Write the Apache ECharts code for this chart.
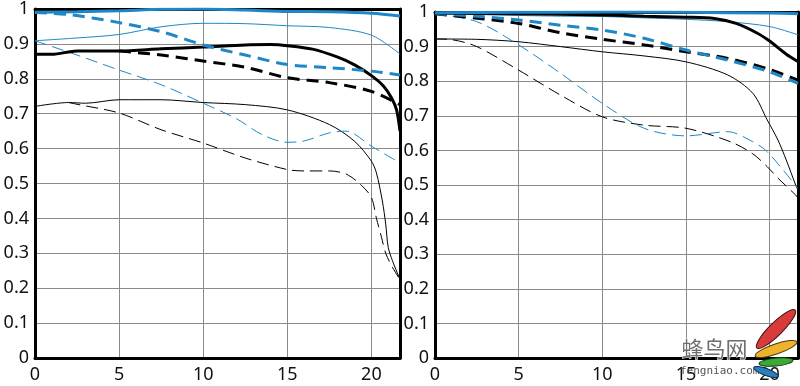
<!DOCTYPE html>
<html>
<head>
<meta charset="utf-8">
<script src="https://cdn.jsdelivr.net/npm/echarts@6/dist/echarts.min.js"></script>
<style>
html,body{margin:0;padding:0;background:#fff;}
#chart{width:800px;height:386px;}
</style>
</head>
<body>
<div id="chart"></div>
<script>
// ---- axis ticks ----
const xTickValues = [0, 5, 10, 15, 20];
const xMax = 21.7;
const yTickLabels = ['0', '0.1', '0.2', '0.3', '0.4', '0.5', '0.6', '0.7', '0.8', '0.9', '1'];

// ---- LEFT panel ----
const L_blueThickSolid_x = [0, 2.5, 5, 7.5, 10, 12.5, 15, 17.5, 20, 21.7];
const L_blueThickSolid_y = [0.991, 0.992, 0.995, 0.999, 1.0, 0.997, 0.993, 0.992, 0.988, 0.98];

const L_blueThickDash_x = [0, 2, 5, 7.5, 10, 12.5, 15, 17.5, 20, 21.7];
const L_blueThickDash_y = [0.99, 0.984, 0.961, 0.935, 0.897, 0.868, 0.841, 0.832, 0.822, 0.811];

const L_blueThinSolid_x = [0, 2.5, 5, 7.5, 10, 12.5, 15, 17.5, 20, 21.7];
const L_blueThinSolid_y = [0.909, 0.917, 0.927, 0.949, 0.959, 0.958, 0.952, 0.947, 0.925, 0.871];

const L_blackThickSolid_x = [0, 1, 2.5, 5, 7.5, 10, 12.5, 14, 15, 16.5, 18, 19, 20, 20.7, 21.2, 21.5, 21.7];
const L_blackThickSolid_y = [0.87, 0.87, 0.88, 0.88, 0.886, 0.891, 0.897, 0.898, 0.895, 0.885, 0.862, 0.84, 0.809, 0.78, 0.745, 0.71, 0.65];

const L_blackThickDash_x = [5, 7.5, 10, 12.5, 15, 17.5, 20, 21.7];
const L_blackThickDash_y = [0.88, 0.868, 0.851, 0.833, 0.803, 0.789, 0.764, 0.726];

const L_blueThinDash_x = [0, 2.5, 5, 7.5, 10, 12, 13.5, 15, 16, 17.5, 18.5, 20, 21.7];
const L_blueThinDash_y = [0.909, 0.868, 0.825, 0.783, 0.73, 0.685, 0.64, 0.618, 0.622, 0.645, 0.65, 0.607, 0.559];

const L_blackThinSolid_x = [0, 2, 3, 5, 7.5, 10, 12.5, 15, 17.5, 19, 20, 20.3, 20.65, 20.85, 21.0, 21.25, 21.7];
const L_blackThinSolid_y = [0.721, 0.732, 0.73, 0.74, 0.74, 0.732, 0.726, 0.711, 0.669, 0.621, 0.564, 0.53, 0.45, 0.384, 0.317, 0.279, 0.225];

const L_blackThinDash_x = [2, 2.5, 5, 7.5, 10, 12.5, 15, 16, 17.5, 18.5, 19.4, 20, 20.3, 20.6, 20.85, 21.25, 21.7];
const L_blackThinDash_y = [0.732, 0.727, 0.702, 0.654, 0.616, 0.573, 0.54, 0.536, 0.536, 0.527, 0.495, 0.46, 0.40, 0.346, 0.30, 0.26, 0.225];

// ---- RIGHT panel ----
const R_blueThickSolid_x = [0, 5, 10, 15, 20, 21.7];
const R_blueThickSolid_y = [0.998, 0.999, 1.0, 0.999, 0.997, 0.995];

const R_blueThinSolid_x = [0, 2.5, 5, 7.5, 10, 12.5, 15, 17.5, 20, 21.7];
const R_blueThinSolid_y = [0.995, 0.993, 0.99, 0.988, 0.987, 0.983, 0.979, 0.972, 0.958, 0.934];

const R_blackThickSolid_x = [0, 5, 10, 12.5, 15, 16.7, 18, 19.3, 20, 21, 21.7];
const R_blackThickSolid_y = [0.997, 0.995, 0.991, 0.988, 0.985, 0.981, 0.967, 0.938, 0.916, 0.878, 0.857];

const R_blackThickDash_x = [0, 2.5, 5, 7.5, 10, 12.5, 15, 17.5, 20, 21.7];
const R_blackThickDash_y = [0.995, 0.982, 0.967, 0.94, 0.921, 0.905, 0.885, 0.866, 0.834, 0.803];

const R_blueThickDash_x = [0, 2.5, 5, 7.5, 10, 12.5, 15, 17.5, 20, 21.7];
const R_blueThickDash_y = [0.995, 0.988, 0.977, 0.962, 0.948, 0.924, 0.89, 0.861, 0.827, 0.794];

const R_blackThinSolid_x = [0, 2.5, 5, 7.5, 10, 12.5, 15, 17.5, 19, 19.86, 20.5, 21, 21.56, 21.7];
const R_blackThinSolid_y = [0.922, 0.921, 0.914, 0.9, 0.885, 0.873, 0.856, 0.818, 0.765, 0.688, 0.63, 0.572, 0.5, 0.485];

const R_blackThinDash_x = [0, 1, 2.5, 5, 7.5, 10, 12.5, 15, 17.66, 19, 19.86, 20.5, 21.56, 21.7];
const R_blackThinDash_y = [0.922, 0.92, 0.9, 0.832, 0.76, 0.697, 0.673, 0.664, 0.625, 0.59, 0.553, 0.52, 0.471, 0.462];

const R_blueThinDash_x = [0, 2.5, 5, 7.5, 10, 12.5, 15, 17.5, 19, 19.86, 21.46, 21.7];
const R_blueThinDash_y = [0.995, 0.972, 0.905, 0.823, 0.736, 0.664, 0.642, 0.654, 0.625, 0.596, 0.505, 0.49];

// ---- styling ----
const BLUE = '#1f87c6';
const BLACK = '#000';
const FONT = 'Noto Sans';

function mk(panel, xs, ys, color, width, dashed) {
  return {
    type: 'line',
    xAxisIndex: panel * 2,
    yAxisIndex: panel * 2,
    data: xs.map((x, i) => [x, ys[i]]),
    symbol: 'none',
    showSymbol: false,
    smooth: 0.3,
    silent: true,
    lineStyle: {
      color: color,
      width: width,
      type: dashed ? (width > 2 ? [12, 7] : [12, 6]) : 'solid',
      cap: 'butt'
    },
    z: 3
  };
}

function mainX(grid, margin) {
  return {
    type: 'value', gridIndex: grid, min: 0, max: xMax, interval: 5, position: 'bottom',
    axisLine: { show: true, lineStyle: { color: BLACK, width: 3 } },
    axisTick: { show: false },
    axisLabel: {
      show: true, margin: margin, color: '#111', fontFamily: FONT, fontSize: 18,
      formatter: v => (xTickValues.indexOf(v) >= 0 ? String(v) : ''),
      showMaxLabel: false
    },
    splitLine: { show: true, lineStyle: { color: '#8a8a8a', width: 1 } }
  };
}
function borderX(grid) {
  return {
    type: 'value', gridIndex: grid, min: 0, max: xMax, position: 'top',
    axisLine: { show: true, onZero: false, lineStyle: { color: BLACK, width: 3 } },
    axisTick: { show: false }, axisLabel: { show: false }, splitLine: { show: false }
  };
}
function mainY(grid) {
  return {
    type: 'value', gridIndex: grid, min: 0, max: 1, interval: 0.1, position: 'left',
    axisLine: { show: true, lineStyle: { color: BLACK, width: 3 } },
    axisTick: { show: false },
    axisLabel: {
      show: true, margin: 6, color: '#111', fontFamily: FONT, fontSize: 18,
      formatter: v => yTickLabels[Math.round(v * 10)]
    },
    splitLine: { show: true, lineStyle: { color: '#8a8a8a', width: 1 } }
  };
}
function borderY(grid) {
  return {
    type: 'value', gridIndex: grid, min: 0, max: 1, position: 'right',
    axisLine: { show: true, onZero: false, lineStyle: { color: BLACK, width: 3 } },
    axisTick: { show: false }, axisLabel: { show: false }, splitLine: { show: false }
  };
}

const chart = echarts.init(document.getElementById('chart'), null, { renderer: 'canvas' });
chart.setOption({
  animation: false,
  backgroundColor: '#fff',
  grid: [
    { left: 35, top: 7, width: 365, height: 351 },
    { left: 435, top: 12, width: 363, height: 346 }
  ],
  xAxis: [mainX(0, 8), borderX(0), mainX(1, 8), borderX(1)],
  yAxis: [mainY(0), borderY(0), mainY(1), borderY(1)],
  series: [
    mk(0, L_blackThinDash_x, L_blackThinDash_y, BLACK, 1, true),
    mk(0, L_blackThinSolid_x, L_blackThinSolid_y, BLACK, 1, false),
    mk(0, L_blueThinDash_x, L_blueThinDash_y, BLUE, 1, true),
    mk(0, L_blueThinSolid_x, L_blueThinSolid_y, BLUE, 1, false),
    mk(0, L_blackThickDash_x, L_blackThickDash_y, BLACK, 3, true),
    mk(0, L_blackThickSolid_x, L_blackThickSolid_y, BLACK, 3, false),
    mk(0, L_blueThickDash_x, L_blueThickDash_y, BLUE, 3, true),
    mk(0, L_blueThickSolid_x, L_blueThickSolid_y, BLUE, 3, false),

    mk(1, R_blackThinDash_x, R_blackThinDash_y, BLACK, 1, true),
    mk(1, R_blackThinSolid_x, R_blackThinSolid_y, BLACK, 1, false),
    mk(1, R_blueThinDash_x, R_blueThinDash_y, BLUE, 1, true),
    mk(1, R_blueThinSolid_x, R_blueThinSolid_y, BLUE, 1, false),
    mk(1, R_blackThickDash_x, R_blackThickDash_y, BLACK, 3, true),
    mk(1, R_blueThickDash_x, R_blueThickDash_y, BLUE, 3, true),
    mk(1, R_blackThickSolid_x, R_blackThickSolid_y, BLACK, 3, false),
    mk(1, R_blueThickSolid_x, R_blueThickSolid_y, BLUE, 3, false)
  ],
  graphic: [
    { type: 'text', left: 681, top: 337, z: 100,
      style: { text: '蜂鸟网', fill: '#6e6e6e', font: '22px "Noto Sans CJK SC"', stroke: '#fff', lineWidth: 1 } },
    { type: 'text', left: 680, top: 366, z: 100,
      style: { text: 'fengniao.com', fill: '#555', font: '11px "DejaVu Sans Mono"' } },
    { type: 'ellipse', x: 776, y: 329, rotation: 0.78, z: 100,
      shape: { cx: 0, cy: 0, rx: 27, ry: 6.5 }, style: { fill: '#d93a3a', stroke: '#3a1010', lineWidth: 1 } },
    { type: 'ellipse', x: 776, y: 349, rotation: 0.33, z: 100,
      shape: { cx: 0, cy: 0, rx: 22, ry: 5 }, style: { fill: '#efb22a', stroke: '#4a3a10', lineWidth: 1 } },
    { type: 'ellipse', x: 776, y: 362, rotation: 0.1, z: 100,
      shape: { cx: 0, cy: 0, rx: 17, ry: 4 }, style: { fill: '#3aa935', stroke: '#163a10', lineWidth: 1 } },
    { type: 'ellipse', x: 766, y: 372, rotation: -0.35, z: 100,
      shape: { cx: 0, cy: 0, rx: 13, ry: 3.5 }, style: { fill: '#2a7fc1', stroke: '#10304a', lineWidth: 1 } }
  ]
});
</script>
</body>
</html>
